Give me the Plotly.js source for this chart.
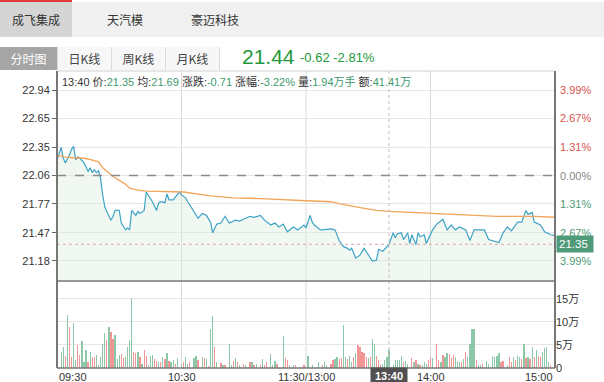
<!DOCTYPE html>
<html><head><meta charset="utf-8">
<script src="https://cdn.plot.ly/plotly-3.0.1.min.js"></script>
<style>
body{margin:0;background:#fff;width:604px;height:382px;overflow:hidden;position:relative;font-family:"Liberation Sans","Noto Sans CJK SC",sans-serif;}
.abs{position:absolute;}
.tab{position:absolute;top:0;height:35px;line-height:35px;text-align:center;font-size:12px;color:#333;font-family:"Noto Sans CJK SC",sans-serif;}
.btn{position:absolute;top:47px;height:23px;line-height:23px;text-align:center;font-size:12px;color:#444;background:#f7f7f7;border-right:1px solid #dcdcdc;font-family:"Noto Sans CJK SC",sans-serif;box-sizing:border-box;}
#chart{position:absolute;left:0;top:0;width:604px;height:382px;}
.g{color:#3e9a6e}
</style></head><body>
<div class="abs" style="left:0;top:2px;width:604px;height:35px;background:#f0f0f0;">
  <div class="tab" style="left:0;width:72px;background:#d5d5d5;">成飞集成</div>
  <div class="tab" style="left:90px;width:70px;">天汽模</div>
  <div class="tab" style="left:175px;width:80px;">豪迈科技</div>
</div>
<div class="abs" style="left:0;top:0;width:72px;height:2px;background:#e03a3a;"></div>
<div class="abs" style="left:0;top:47px;width:220px;height:23px;background:#f7f7f7;border-top:1px solid #e2e2e2;box-sizing:border-box;"></div>
<div class="btn" style="left:0;width:58px;background:#a5a5a5;color:#fff;">分时图</div>
<div class="btn" style="left:58px;width:54px;">日K线</div>
<div class="btn" style="left:112px;width:54px;">周K线</div>
<div class="btn" style="left:166px;width:54px;">月K线</div>
<div class="abs" id="bigp" style="left:242px;top:45px;font-size:21px;color:#23983a;"></div>
<div class="abs" id="chg" style="left:300px;top:50px;font-size:13px;color:#23983a;"></div>
<div id="chart"></div>
<div class="abs" id="info" style="left:62px;top:73px;font-size:11px;color:#333;white-space:nowrap;font-family:'Liberation Sans','Noto Sans CJK SC',sans-serif;"></div>
<script>
// ---------- data ----------
const lastPrice = "21.44", lastChange = "-0.62", lastPct = "-2.81%";
const baseClose = 22.06;
const crossTime = "13:40", crossPrice = 21.35, crossAvg = 21.69, crossChg = "-0.71", crossPct = "-3.22%", crossVol = "1.94万手", crossAmt = "41.41万";
const crossMinute = 160;

const priceTicks = [21.18, 21.47, 21.77, 22.06, 22.35, 22.65, 22.94];
const pctLabels  = ["3.99%", "2.67%", "1.31%", "0.00%", "1.31%", "2.67%", "3.99%"];
const timeTickMinutes = [0, 60, 120, 180, 240];
const timeTickLabels = ["09:30", "10:30", "11:30/13:00", "14:00", "15:00"];
const volTicks = [0, 5, 10, 15];
const volTickLabels = ["0", "5万", "10万", "15万"];

const priceMin = [0,2,3,4,5,6,7,8,9,10,11,13,14,15,16,17,18,19,20,21,22,23,24,26,27,28,30,31,33,34,35,36,38,39,40,42,43,45,46,48,49,50,52,53,54,56,58,59,60,62,63,66,68,70,72,74,75,77,79,81,82,83,86,88,91,93,95,98,100,103,105,107,109,111,114,116,119,120,
 122,123,124,127,128,132,134,136,138,140,141,142,144,146,148,150,152,154,155,157,159,160,162,163,164,166,167,169,170,171,173,174,175,177,178,181,183,186,188,190,192,194,197,199,201,204,206,208,210,213,215,217,219,222,224,226,227,229,230,233,235,238,240];
const priceVal = [22.22,22.35,22.24,22.19,22.23,22.27,22.33,22.36,22.22,22.25,22.24,22.19,22.15,22.10,22.14,22.09,22.12,22.09,22.11,22.03,21.86,21.74,21.69,21.60,21.64,21.70,21.70,21.57,21.50,21.52,21.50,21.70,21.65,21.69,21.67,21.70,21.89,21.83,21.79,21.70,21.78,21.79,21.78,21.87,21.81,21.81,21.86,21.89,21.86,21.83,21.79,21.69,21.62,21.67,21.65,21.58,21.47,21.56,21.57,21.64,21.60,21.57,21.60,21.59,21.62,21.64,21.63,21.65,21.60,21.55,21.57,21.53,21.56,21.48,21.53,21.50,21.55,21.52,
 21.65,21.58,21.55,21.50,21.50,21.51,21.50,21.39,21.33,21.31,21.29,21.31,21.21,21.24,21.31,21.24,21.18,21.19,21.30,21.28,21.33,21.35,21.47,21.42,21.46,21.47,21.40,21.47,21.36,21.45,21.35,21.47,21.43,21.45,21.36,21.50,21.56,21.61,21.50,21.55,21.50,21.53,21.50,21.39,21.50,21.50,21.50,21.40,21.39,21.37,21.47,21.53,21.49,21.58,21.58,21.70,21.66,21.68,21.58,21.55,21.48,21.45,21.44];

const avgMin = [0,4,9,12,15,18,20,22,25,27,30,33,35,39,43,61,74,85,101,109,117,120,132,136,146,154,160,180,196,212,230,240];
const avgVal = [22.27,22.25,22.24,22.24,22.23,22.21,22.20,22.14,22.08,22.05,22.01,21.97,21.93,21.91,21.90,21.89,21.85,21.83,21.82,21.81,21.80,21.80,21.79,21.77,21.73,21.70,21.69,21.67,21.65,21.64,21.64,21.63];

// volume in 万手; dir: 1 = up (red), -1 = down (green)
const volMin = [2,3,4,5,6,7,8,9,10,11,12,13,14,15,16,17,18,19,20,21,22,23,24,25,26,27,28,29,30,31,32,33,34,35,36,37,38,39,40,41,42,43,44,45,46,47,48,49,50,51,52,53,54,55,56,57,58,60,61,62,63,64,66,67,68,70,71,72,73,74,75,76,77,79,80,81,83,84,85,86,87,88,90,91,93,94,95,96,98,99,100,101,103,104,105,106,109,110,111,112,114,115,
 119,121,123,126,128,129,130,132,133,134,135,136,137,138,139,140,141,142,143,144,145,146,147,148,149,150,151,152,153,154,155,156,157,158,159,160,162,163,164,165,166,167,168,169,171,172,173,174,175,176,177,178,179,180,181,183,184,185,186,187,188,189,190,191,192,193,194,195,196,197,198,199,200,201,202,203,204,205,207,208,210,211,212,213,214,215,217,218,219,220,221,222,223,224,225,226,227,228,229,230,231,232,233,234,235,236,237,238,240];
const volVal = [3.5,4.5,2.6,11.5,8.8,2.3,9.7,1.7,5.0,2.8,5.9,1.3,3.8,1.2,3.5,2.3,2.3,2.8,0.6,2.3,5.2,7.7,6.1,8.8,7.8,6.4,7.2,1.9,2.8,3.0,2.1,2.3,4.5,6.1,15.1,3.5,3.3,3.5,2.3,0.9,3.9,2.6,0.7,2.6,2.8,1.9,1.6,1.2,1.4,2.3,1.9,3.3,1.6,1.2,1.7,0.9,2.1,0.9,1.4,2.3,0.9,1.4,2.1,2.6,1.7,2.4,2.1,1.9,0.4,8.4,11.2,4.5,1.2,1.0,0.6,0.7,5.2,0.7,1.6,2.1,1.2,0.6,0.9,0.7,1.4,1.2,0.6,0.9,0.7,1.9,0.6,1.4,3.0,0.7,1.6,0.9,7.0,2.1,1.7,0.6,0.7,0.7,
 0.6,2.6,0.7,1.2,0.6,1.2,0.7,0.9,1.7,1.9,2.3,1.9,2.1,9.3,2.3,1.9,2.6,1.2,2.3,3.3,5.0,4.5,3.5,3.2,2.4,2.1,2.3,6.2,5.2,2.6,1.7,0.6,0.9,1.7,2.3,3.9,0.7,1.7,1.7,1.7,2.6,1.2,1.6,0.9,2.1,1.4,1.7,0.9,0.6,0.7,1.4,0.9,1.7,2.3,2.1,5.2,1.7,1.4,2.8,2.3,3.2,3.0,2.1,2.8,2.4,1.6,1.2,1.4,1.9,3.5,2.3,5.2,8.4,8.4,1.7,0.7,0.6,0.9,1.6,0.9,2.6,2.3,2.6,3.2,1.2,1.6,0.7,2.3,1.4,2.3,1.7,2.6,2.3,1.9,5.2,2.1,2.3,1.9,4.5,2.3,3.9,2.6,2.3,3.5,4.3,4.5,1.2,0.7,8.8];
const volDir = [-1,-1,1,-1,1,1,-1,-1,1,1,-1,-1,-1,1,-1,1,1,-1,-1,-1,-1,-1,1,-1,1,1,-1,-1,-1,1,1,-1,-1,-1,-1,1,1,-1,1,-1,1,1,-1,-1,-1,1,1,-1,1,-1,1,-1,1,-1,-1,1,-1,-1,1,-1,-1,1,-1,-1,1,-1,1,-1,1,-1,-1,1,-1,1,-1,1,-1,-1,1,-1,1,-1,1,-1,1,-1,1,-1,1,-1,1,1,-1,-1,-1,1,-1,1,1,-1,-1,1,
 1,-1,-1,-1,1,-1,-1,1,1,-1,-1,1,1,-1,-1,1,-1,-1,1,-1,1,1,1,1,1,-1,1,-1,-1,1,1,1,-1,-1,-1,-1,-1,-1,-1,-1,-1,1,-1,-1,1,-1,1,-1,1,-1,-1,-1,1,1,-1,1,1,-1,1,-1,-1,1,1,1,-1,-1,-1,1,-1,1,-1,-1,-1,-1,1,-1,-1,1,-1,-1,-1,-1,-1,-1,1,1,-1,1,1,-1,1,-1,-1,1,-1,1,-1,1,-1,1,-1,1,1,-1,-1,-1,-1,1,-1];

// ---------- header text ----------
document.getElementById('bigp').textContent = lastPrice;
document.getElementById('chg').textContent = lastChange + " " + lastPct;
document.getElementById('info').innerHTML =
  crossTime + " 价:<span class='g'>" + crossPrice.toFixed(2) + "</span> 均:<span class='g'>" + crossAvg.toFixed(2) +
  "</span> 涨跌:<span class='g'>" + crossChg + "</span> 涨幅:<span class='g'>" + crossPct +
  "</span> 量:<span class='g'>" + crossVol + "</span> 额:<span class='g'>" + crossAmt + "</span>";

// ---------- chart ----------
const volSplit = 0.293;
const traces = [
  {x: priceMin, y: priceVal, type: 'scatter', mode: 'lines', line: {color: '#3fa3c6', width: 1.2},
   fill: 'tozeroy', fillcolor: 'rgba(214,232,216,0.35)', xaxis: 'x', yaxis: 'y', hoverinfo: 'skip'},
  {x: avgMin, y: avgVal, type: 'scatter', mode: 'lines', line: {color: '#f2a55a', width: 1.3},
   xaxis: 'x', yaxis: 'y', hoverinfo: 'skip'},
  {x: volMin, y: volVal, type: 'bar', width: 0.62,
   marker: {color: volDir.map(d => d > 0 ? '#f29595' : '#8cc7a8'), line: {width: 0}},
   xaxis: 'x', yaxis: 'y2', hoverinfo: 'skip'}
];

const shapes = [];
timeTickMinutes.slice(1, -1).forEach(m => shapes.push({type: 'line', xref: 'x', yref: 'paper', x0: m, x1: m, y0: 0, y1: 1, line: {color: '#d9d9d9', width: 1}, layer: 'below'}));
shapes.push({type: 'line', xref: 'x', yref: 'paper', x0: crossMinute, x1: crossMinute, y0: 0, y1: 1, line: {color: '#bdbdbd', width: 1, dash: 'dot'}});
shapes.push({type: 'line', xref: 'paper', yref: 'y', x0: 0, x1: 1, y0: baseClose, y1: baseClose, line: {color: '#8a8a8a', width: 1.5, dash: 'dash'}});
shapes.push({type: 'line', xref: 'paper', yref: 'y', x0: 0, x1: 1, y0: crossPrice, y1: crossPrice, line: {color: '#dcb8b8', width: 1.2, dash: 'dot'}});
shapes.push({type: 'line', xref: 'paper', yref: 'paper', x0: 0, x1: 1, y0: volSplit, y1: volSplit, line: {color: '#777', width: 1.5}});
shapes.push({type: 'line', xref: 'paper', yref: 'paper', x0: 0, x1: 1, y0: 1, y1: 1, line: {color: '#d0d0d0', width: 1}});
shapes.push({type: 'line', xref: 'paper', yref: 'paper', x0: 0, x1: 1, y0: 0, y1: 0, line: {color: '#777', width: 1.5}});
shapes.push({type: 'line', xref: 'paper', yref: 'paper', x0: 0, x1: 0, y0: 0, y1: 1, line: {color: '#777', width: 2}});
shapes.push({type: 'line', xref: 'paper', yref: 'paper', x0: 1, x1: 1, y0: 0, y1: 1, line: {color: '#777', width: 2}});

const annotations = [];
priceTicks.forEach((p, i) => {
  const col = p > baseClose + 0.001 ? '#d9534f' : (p < baseClose - 0.001 ? '#4f9a74' : '#888');
  annotations.push({xref: 'paper', yref: 'y', x: 1, y: p, xanchor: 'left', xshift: 3, text: pctLabels[i], showarrow: false,
    font: {size: 11, color: col, family: 'Liberation Sans, Arial'}});
});
timeTickMinutes.forEach((m, i) => {
  const xa = i === 0 ? 'left' : (i === timeTickMinutes.length - 1 ? 'right' : 'center');
  annotations.push({xref: 'x', yref: 'paper', x: m, y: 0, yanchor: 'top', yshift: -1, xanchor: xa, text: timeTickLabels[i], showarrow: false,
    font: {size: 11, color: '#333', family: 'Liberation Sans, Arial'}});
});
annotations.push({xref: 'x', yref: 'paper', x: crossMinute, y: 0, yanchor: 'top', yshift: 1, xanchor: 'center', text: '<b>' + crossTime + '</b>', showarrow: false,
  width: 34, height: 13, bgcolor: '#505050', borderpad: 1, font: {size: 11, color: '#fff', family: 'Liberation Sans, Arial'}});
annotations.push({xref: 'paper', yref: 'y', x: 1, y: crossPrice, xanchor: 'left', xshift: 1, text: crossPrice.toFixed(2) + ' ', showarrow: false,
  bgcolor: '#4f9a78', borderpad: 2, font: {size: 11.5, color: '#fff', family: 'Liberation Sans, Arial'}});

const layout = {
  width: 604, height: 382,
  margin: {l: 57, r: 49, t: 71, b: 14},
  paper_bgcolor: 'rgba(0,0,0,0)', plot_bgcolor: 'rgba(0,0,0,0)',
  showlegend: false, bargap: 0, barmode: 'overlay',
  xaxis: {range: [0, 240], showgrid: false, zeroline: false, showticklabels: false, ticks: '', showline: false, anchor: 'y2', fixedrange: true},
  yaxis: {domain: [volSplit, 1], range: [20.974, 23.136], tickvals: priceTicks, ticktext: priceTicks.map(v => v.toFixed(2)),
    ticks: 'outside', ticklen: 4, tickcolor: '#666', showgrid: true, gridcolor: '#e6e6e6', zeroline: false, showline: false,
    tickfont: {size: 11, color: '#333', family: 'Liberation Sans, Arial'}},
  yaxis2: {domain: [0, volSplit], range: [0, 18.9], side: 'right', anchor: 'x', tickvals: volTicks, ticktext: volTickLabels,
    ticks: '', showgrid: true, gridcolor: '#e6e6e6', zeroline: false, showline: false,
    tickfont: {size: 11, color: '#333', family: 'Liberation Sans, Noto Sans CJK SC'}},
  shapes: shapes, annotations: annotations
};
Plotly.newPlot('chart', traces, layout, {displayModeBar: false, staticPlot: true});
</script>
</body></html>
